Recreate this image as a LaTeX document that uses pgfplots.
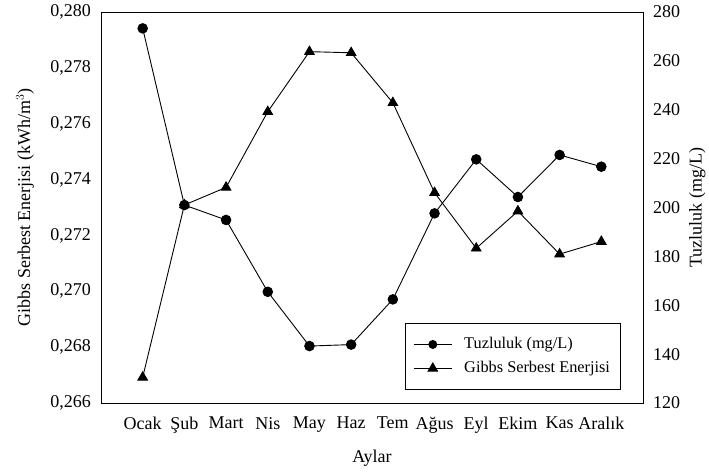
\documentclass[border=0pt]{standalone}
\usepackage{fontspec}
\setmainfont{Liberation Serif}
\usepackage{pgfplots}
\pgfplotsset{compat=1.18}
\begin{document}
\fontsize{18}{21}\selectfont
\begin{tikzpicture}[x=1pt,y=1pt]
\pgfplotsset{
  base/.style={
    width=542pt, height=391pt, scale only axis,
    at={(0,0)}, anchor=south west,
    xmin=0, xmax=13,
    major tick length=0pt,
    tick style={draw=none},
    axis line style={line width=0.9pt, black},
    /pgf/number format/assume math mode=true,
    every tick label/.append style={font=\fontsize{18}{21}\selectfont},
    label style={font=\fontsize{18}{21}\selectfont},
  }
}
\begin{axis}[base,
  ymin=0.266, ymax=0.280,
  ytick={0.266,0.268,0.270,0.272,0.274,0.276,0.278,0.280},
  yticklabel style={/pgf/number format/fixed, /pgf/number format/fixed zerofill, /pgf/number format/precision=3, /pgf/number format/use comma, xshift=-4pt},
  scaled y ticks=false,
  xtick={1,...,12},
  xticklabels={Ocak,Şub,Mart,Nis,May,Haz,Tem,Ağus,Eyl,Ekim,Kas,Aralık},
  xticklabel style={yshift=-8pt},
  xlabel={Aylar},
  xlabel style={at={(axis description cs:0.5,0)}, anchor=center, yshift=-55pt},
  ylabel={Gibbs Serbest Enerjisi (kWh/m$^3$)},
  ylabel style={at={(axis description cs:-0.140,0.5)}, anchor=center, rotate=0},
  legend style={at={(axis cs:7.29,0.26647)}, anchor=south west, draw=black, line width=0.8pt,
    font=\fontsize{16.3}{19}\selectfont, inner xsep=8pt, inner ysep=12pt, row sep=6pt,
    /tikz/every odd column/.append style={column sep=10pt},
    /tikz/every even column/.append style={column sep=0pt}},
  legend cell align=left,
  legend image code/.code={\draw[mark repeat=2,mark phase=2,#1] plot coordinates {(0pt,0pt) (19pt,0pt) (38pt,0pt)};},
]
\addlegendimage{black, line width=0.9pt, mark=*, mark size=4pt}
\addlegendentry{Tuzluluk (mg/L)}
\addplot[black, line width=0.9pt, mark=triangle*, mark size=5.5pt] coordinates {
(1,0.26692) (2,0.27309) (3,0.27372) (4,0.27643) (5,0.27858) (6,0.27854)
(7,0.27675) (8,0.27353) (9,0.27154) (10,0.27287) (11,0.27133) (12,0.27178)};
\addlegendentry{Gibbs Serbest Enerjisi}
\end{axis}
\begin{axis}[base,
  ymin=120, ymax=280,
  ytick={120,140,...,280},
  axis y line*=right, axis x line=none,
  yticklabel style={xshift=4pt},
  ylabel={Tuzluluk (mg/L)},
  ylabel style={at={(axis description cs:1.100,0.5)}, anchor=center, rotate=0},
]
\addplot[black, line width=0.9pt, mark=*, mark size=4.8pt] coordinates {
(1,273.3) (2,201.0) (3,194.9) (4,165.5) (5,143.3) (6,143.9)
(7,162.4) (8,197.6) (9,219.7) (10,204.3) (11,221.5) (12,216.7)};
\end{axis}
\pgfresetboundingbox
\useasboundingbox (-101,-68) rectangle (608,403);
\end{tikzpicture}
\end{document}
